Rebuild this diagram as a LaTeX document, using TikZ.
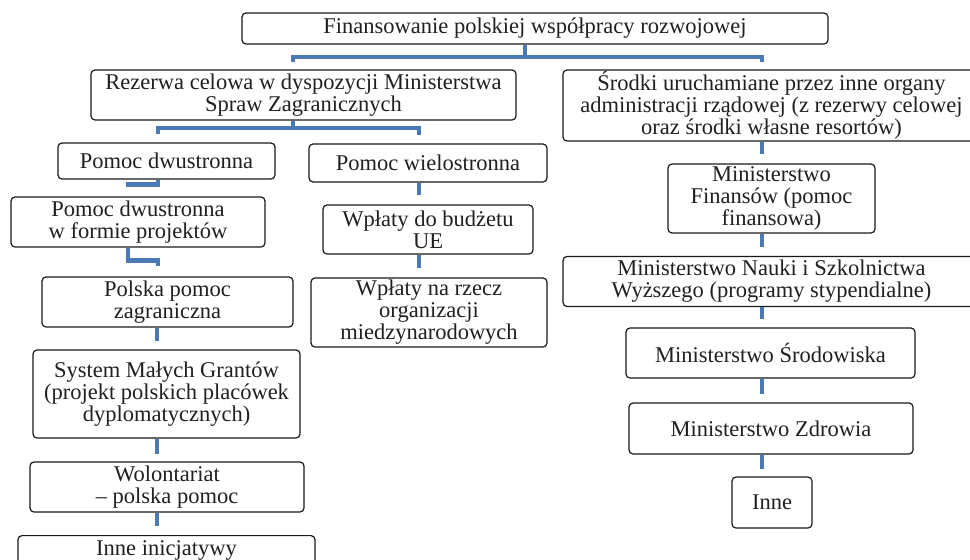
\documentclass[tikz,border=0pt]{standalone}
\usepackage{fontspec}
\setmainfont{Liberation Serif}
\definecolor{connblue}{RGB}{74,122,180}
\definecolor{txt}{RGB}{35,31,32}
\newcommand\boxfont{\fontsize{22.5}{22}\selectfont}
\tikzset{
  box/.style={draw=black!90, line width=1.2pt, rounded corners=4pt, align=center,
    inner sep=0pt, text=txt, font=\boxfont},
  conn/.style={draw=connblue, line width=4.6pt, line cap=butt}
}
\begin{document}
\begin{tikzpicture}[x=1pt,y=-1pt]
\clip (0,0) rectangle (970,560);
\fill[white] (0,0) rectangle (970,560);

% boxes
\node[box, minimum width=586pt, minimum height=31pt] (top) at (535,28.5) {Finansowanie polskiej współpracy rozwojowej};
\node[box, minimum width=425pt, minimum height=50pt] (rez) at (303.5,95) {Rezerwa celowa w dyspozycji Ministerstwa\\Spraw Zagranicznych};
\node[box, minimum width=417pt, minimum height=71pt] (srodki) at (771.5,105.5) {Środki uruchamiane przez inne organy\\administracji rządowej (z rezerwy celowej\\oraz środki własne resortów)};
\node[box, minimum width=217pt, minimum height=36pt] (pd) at (166.5,161) {Pomoc dwustronna};
\node[box, minimum width=238pt, minimum height=38pt] (pw) at (428,163) {Pomoc wielostronna};
\node[box, minimum width=254pt, minimum height=50pt] (pdp) at (138,222) {Pomoc dwustronna\\w formie projektów};
\node[box, minimum width=251pt, minimum height=50pt] (ppz) at (167.5,302) {Polska pomoc\\zagraniczna};
\node[box, minimum width=267pt, minimum height=88pt] (smg) at (166.5,394) {System Małych Grantów\\(projekt polskich placówek\\dyplomatycznych)};
\node[box, minimum width=274pt, minimum height=50pt] (wol) at (167,487) {Wolontariat\\– polska pomoc};
\node[box, minimum width=297pt, anchor=north, inner ysep=4pt, text height=16pt, text depth=28pt] (innei) at (166.5,535) {Inne inicjatywy};
\node[box, minimum width=210pt, minimum height=49pt] (wbu) at (428,229.5) {Wpłaty do budżetu\\UE};
\node[box, minimum width=236pt, minimum height=69pt] (wnr) at (429,312.5) {Wpłaty na rzecz\\organizacji\\miedzynarodowych};
\node[box, minimum width=207pt, minimum height=69pt] (mf) at (771.5,198.5) {Ministerstwo\\Finansów (pomoc\\finansowa)};
\node[box, minimum width=417pt, minimum height=50pt] (mn) at (771.5,281.5) {Ministerstwo Nauki i Szkolnictwa\\Wyższego (programy stypendialne)};
\node[box, minimum width=289pt, minimum height=50pt] (ms) at (770.5,353) {Ministerstwo Środowiska};
\node[box, minimum width=284pt, minimum height=51pt] (mz) at (771,428.5) {Ministerstwo Zdrowia};
\node[box, minimum width=80pt, minimum height=51pt] (inne) at (772,502.5) {Inne};

% connectors: level 1
\coordinate (b1) at (525,57);
\draw[conn] (top.south -| b1) -- (b1);
\draw[conn, shorten >=7pt] (b1) -| ([xshift=-10.5pt]rez.north);
\draw[conn, shorten >=7pt] (b1) -| ([xshift=-9.5pt]srodki.north);

% level 2
\coordinate (b2) at (293,128);
\draw[conn] ([xshift=-10.5pt]rez.south) -- (b2);
\draw[conn, shorten >=8pt] (b2) -| ([xshift=-8.5pt]pd.north);
\draw[conn, shorten >=8pt] (b2) -| ([xshift=-9pt]pw.north);

% left column
\draw[conn, shorten >=9pt] ([xshift=-8.5pt]pd.south) -- ++(0,5) -| ([xshift=-10pt]pdp.north);
\draw[conn, shorten >=10pt] ([xshift=-10pt]pdp.south) -- ++(0,13) -| ([xshift=-9.5pt]ppz.north);
\draw[conn, shorten >=8pt] ([xshift=-10.5pt]ppz.south) -- ([xshift=-10.5pt]ppz.south |- smg.north);
\draw[conn, shorten >=7pt] ([xshift=-9.5pt]smg.south) -- ([xshift=-9.5pt]smg.south |- wol.north);
\draw[conn, shorten >=9pt] ([xshift=-10pt]wol.south) -- ([xshift=-10pt]wol.south |- innei.north);

% middle column
\draw[conn, shorten >=9pt] ([xshift=-9pt]pw.south) -- ([xshift=-9pt]pw.south |- wbu.north);
\draw[conn, shorten >=9pt] ([xshift=-9pt]wbu.south) -- ([xshift=-9pt]wbu.south |- wnr.north);

% right column
\draw[conn, shorten >=9pt] ([xshift=-9.5pt]srodki.south) -- ([xshift=-9.5pt]srodki.south |- mf.north);
\draw[conn, shorten >=9pt] ([xshift=-9.5pt]mf.south) -- ([xshift=-9.5pt]mf.south |- mn.north);
\draw[conn, shorten >=8pt] ([xshift=-9.5pt]mn.south) -- ([xshift=-9.5pt]mn.south |- ms.north);
\draw[conn, shorten >=8pt] ([xshift=-8.5pt]ms.south) -- ([xshift=-8.5pt]ms.south |- mz.north);
\draw[conn, shorten >=7pt] ([xshift=-9pt]mz.south) -- ([xshift=-9pt]mz.south |- inne.north);
\end{tikzpicture}
\end{document}
